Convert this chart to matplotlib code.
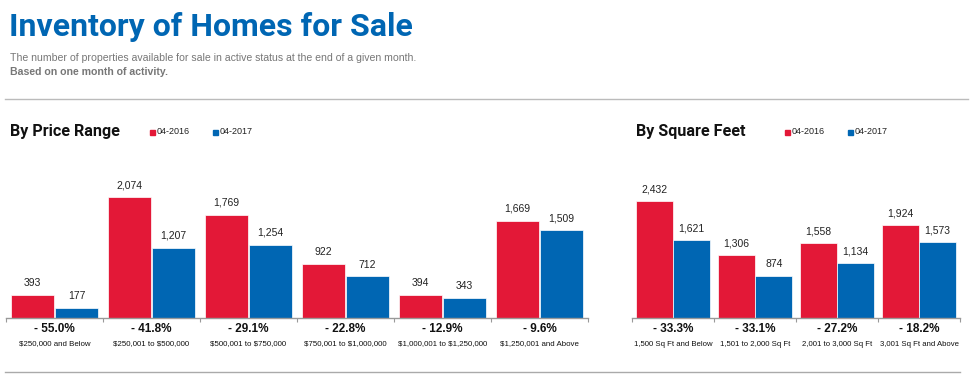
#!/usr/bin/env python3
"""
Inventory of Homes for Sale - price range / square feet comparison
"""

import matplotlib
matplotlib.use('Agg')
import matplotlib.pyplot as plt
from matplotlib.transforms import blended_transform_factory
from matplotlib.lines import Line2D
import numpy as np

plt.rcParams['text.parse_math'] = False

# Data
price_labels = ['$250,000 and Below', '$250,001 to $500,000', '$500,001 to $750,000',
                '$750,001 to $1,000,000', '$1,000,001 to $1,250,000', '$1,250,001 and Above']
price_2016 = [393, 2074, 1769, 922, 394, 1669]
price_2017 = [177, 1207, 1254, 712, 343, 1509]
price_change = ['- 55.0%', '- 41.8%', '- 29.1%', '- 22.8%', '- 12.9%', '- 9.6%']

sqft_labels = ['1,500 Sq Ft and Below', '1,501 to 2,000 Sq Ft',
               '2,001 to 3,000 Sq Ft', '3,001 Sq Ft and Above']
sqft_2016 = [2432, 1306, 1558, 1924]
sqft_2017 = [1621, 874, 1134, 1573]
sqft_change = ['- 33.3%', '- 33.1%', '- 27.2%', '- 18.2%']

series_names = ['04-2016', '04-2017']

RED = '#e31837'
BLUE = '#0066b3'
GRAY = '#999999'

W, H = 975, 387
NARROW = ['Roboto', 'Liberation Sans', 'DejaVu Sans']
SANS = ['Liberation Sans', 'DejaVu Sans']

fig = plt.figure(figsize=(W / 100, H / 100), dpi=100)


def fx(px):
    return px / W


def fy(py):
    return 1 - py / H


def panel(x0, x1, ymax, title, leg_x, labels, v16, v17, changes, lbl_size):
    base, top = 318, 140
    ax = fig.add_axes([fx(x0), fy(base), fx(x1 - x0), (base - top) / H])
    n = len(labels)
    x = np.arange(n)
    w = 0.445
    off = 0.228
    b1 = ax.bar(x - off, v16, w, color=RED, edgecolor='white', linewidth=0.5)
    b2 = ax.bar(x + off, v17, w, color=BLUE, edgecolor='white', linewidth=0.5)
    for bars in (b1, b2):
        for b in bars:
            ax.annotate(f"{int(b.get_height()):,}", (b.get_x() + b.get_width() / 2, b.get_height()),
                        xytext=(0, 5), textcoords='offset points', ha='center', va='bottom',
                        fontsize=7.5, family=SANS, color='#222222')
    ax.set_xlim(-0.5, n - 0.5)
    ax.set_ylim(0, ymax)
    for s in ('top', 'right', 'left'):
        ax.spines[s].set_visible(False)
    ax.spines['bottom'].set_color(GRAY)
    ax.spines['bottom'].set_linewidth(1)
    ax.set_yticks([])
    ax.set_xticks(np.arange(n + 1) - 0.5)
    ax.set_xticklabels([])
    ax.tick_params(axis='x', length=3, color=GRAY, direction='out')

    tr = blended_transform_factory(ax.transData, fig.transFigure)
    for i in range(n):
        ax.text(i, fy(328.5), changes[i], transform=tr, ha='center', va='center',
                fontsize=8.5, fontweight='bold', family=SANS, color='#111111')
        ax.text(i, fy(344), labels[i], transform=tr, ha='center', va='center',
                fontsize=lbl_size, family=SANS, color='#111111')

    # panel heading + legend
    fig.text(fx(x0 + 4), fy(132), title, ha='left', va='center', fontsize=11.6,
             fontweight='bold', family=NARROW, color='#111111')
    for k, (name, c) in enumerate(zip(series_names, (RED, BLUE))):
        lx = leg_x + k * 63
        fig.patches.append(plt.Rectangle((fx(lx), fy(135)), fx(5), 5 / H,
                                         transform=fig.transFigure, color=c))
        fig.text(fx(lx + 7), fy(132), name, ha='left', va='center', fontsize=6.5,
                 family=SANS, color='#222222')
    return ax


panel(6, 588, 3053, 'By Price Range', 150, price_labels, price_2016, price_2017, price_change, 5.7)
panel(632, 960, 3700, 'By Square Feet', 785, sqft_labels, sqft_2016, sqft_2017, sqft_change, 5.6)

# header
fig.text(fx(9), fy(27), 'Inventory of Homes for Sale', ha='left', va='center', fontsize=23,
         fontweight='bold', family=NARROW, color=BLUE)
fig.text(fx(10), fy(58), 'The number of properties available for sale in active status at the end of a given month.',
         ha='left', va='center', fontsize=7.6, family=SANS, color='#777777')
fig.text(fx(10), fy(72), 'Based on one month of activity.', ha='left', va='center', fontsize=7.6,
         fontweight='bold', family=SANS, color='#777777')

# separator lines
fig.add_artist(Line2D([fx(5), fx(968)], [fy(99), fy(99)], color='#bbbbbb', lw=1))
fig.add_artist(Line2D([fx(5), fx(960)], [fy(372), fy(372)], color='#aaaaaa', lw=1))

fig.savefig('out.png', dpi=100)
